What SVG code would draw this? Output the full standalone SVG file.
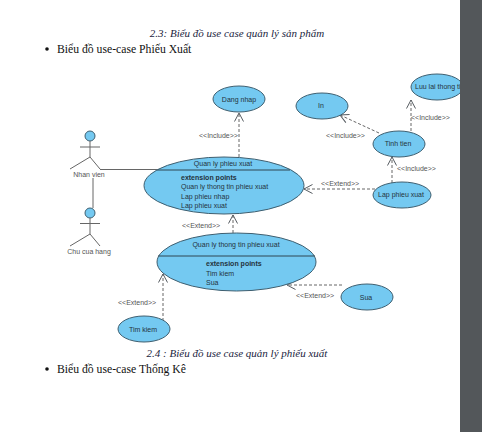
<svg xmlns="http://www.w3.org/2000/svg" width="482" height="432" viewBox="0 0 482 432">
<defs>
<marker id="open" viewBox="0 0 10 10" refX="9.5" refY="5" markerWidth="10" markerHeight="10" markerUnits="userSpaceOnUse" orient="auto"><path d="M1 0.5L9.5 5L1 9.5" fill="none" stroke="#555b60" stroke-width="1"/></marker>
</defs>
<style>
.uc{fill:#74c9f1;stroke:#3f5f70;stroke-width:1}
.t{font-family:"Liberation Sans",Arial,sans-serif;font-size:7px;fill:#24333d}
.l{font-family:"Liberation Sans",Arial,sans-serif;font-size:7px;fill:#555}
.b{font-weight:bold}
.m{text-anchor:middle}
.dash{fill:none;stroke:#666;stroke-width:1;stroke-dasharray:3 2;marker-end:url(#open)}
.actor{fill:none;stroke:#666;stroke-width:1}
.head{fill:#74c9f1;stroke:#3f5f70;stroke-width:1}
.doc{font-family:"Liberation Serif","Times New Roman",serif;font-size:11.7px;fill:#111}
.cap{font-style:italic;font-size:11px;fill:#1a2440}
</style>
<rect width="482" height="432" fill="#fff"/>
<g id="page-text">
<text class="doc cap m" x="237" y="37">2.3: Biểu đồ use case quản lý sản phẩm</text>
<circle cx="47" cy="49" r="1.8" fill="#111"/>
<text class="doc" x="57" y="53">Biểu đồ use-case Phiếu Xuất</text>
<text class="doc cap m" x="237" y="357">2.4 : Biểu đồ use case quản lý phiếu xuất</text>
<circle cx="47" cy="369" r="1.8" fill="#111"/>
<text class="doc" x="57" y="373">Biểu đồ use-case Thống Kê</text>
</g>
<g id="connectors">
<path class="actor" d="M100 169.500H157"/>
<path class="actor" d="M93 178V208"/>
<path class="dash" d="M239 157V113"/>
<path class="dash" d="M379 133L340 115"/>
<path class="dash" d="M411 131V100"/>
<path class="dash" d="M392 183V157"/>
<path class="dash" d="M375 189H304"/>
<path class="dash" d="M233 233V215"/>
<path class="dash" d="M163 321V274"/>
<path class="dash" d="M342 285H287"/>
</g>
<g id="labels">
<text class="l" x="199" y="138">&lt;&lt;Include&gt;&gt;</text>
<text class="l" x="326" y="138">&lt;&lt;Include&gt;&gt;</text>
<text class="l" x="411" y="120">&lt;&lt;Include&gt;&gt;</text>
<text class="l" x="397" y="171">&lt;&lt;Include&gt;&gt;</text>
<text class="l" x="321" y="186">&lt;&lt;Extend&gt;&gt;</text>
<text class="l" x="182" y="228">&lt;&lt;Extend&gt;&gt;</text>
<text class="l" x="118" y="305">&lt;&lt;Extend&gt;&gt;</text>
<text class="l" x="296" y="298">&lt;&lt;Extend&gt;&gt;</text>
</g>
<g id="actor-nhan-vien">
<circle class="head" cx="90" cy="136" r="5"/>
<path class="actor" d="M80 147H100M90 141V157M70 169L90 157L100 169"/>
<text class="l m" x="89" y="177">Nhan vien</text>
</g>
<g id="actor-chu-cua-hang">
<circle class="head" cx="90" cy="213" r="5"/>
<path class="actor" d="M80 223.500H100M90 218V234M70 246L90 234L100 246"/>
<text class="l m" x="89" y="254">Chu cua hang</text>
</g>
<g id="uc-dang-nhap">
<ellipse class="uc" cx="239" cy="99" rx="26" ry="13"/>
<text class="t m" x="239" y="102">Dang nhap</text>
</g>
<g id="uc-in">
<ellipse class="uc" cx="322" cy="106" rx="26" ry="13"/>
<text class="t m" x="321" y="108">In</text>
</g>
<g id="uc-luu-lai">
<ellipse class="uc" cx="437" cy="87" rx="26" ry="13"/>
<text class="t" x="415" y="89">Luu lai thong tin</text>
</g>
<g id="uc-tinh-tien">
<ellipse class="uc" cx="399" cy="144" rx="26" ry="13"/>
<text class="t m" x="398" y="146">Tinh tien</text>
</g>
<g id="uc-lap-phieu-xuat">
<ellipse class="uc" cx="402" cy="195" rx="29" ry="13"/>
<text class="t m" x="401" y="197">Lap phieu xuat</text>
</g>
<g id="uc-quan-ly-phieu-xuat">
<ellipse class="uc" cx="224" cy="185.500" rx="80" ry="28.500"/>
<path d="M157 170H290" fill="none" stroke="#2f4653" stroke-width="1"/>
<text class="t m" x="223" y="166">Quan ly phieu xuat</text>
<text class="t b" x="181" y="180">extension points</text>
<text class="t" x="181" y="189">Quan ly thong tin phieu xuat</text>
<text class="t" x="181" y="199">Lap phieu nhap</text>
<text class="t" x="181" y="208">Lap phieu xuat</text>
</g>
<g id="uc-quan-ly-thong-tin">
<ellipse class="uc" cx="236.500" cy="262" rx="79.500" ry="29"/>
<path d="M158 256H315" fill="none" stroke="#2f4653" stroke-width="1"/>
<text class="t m" x="236" y="247">Quan ly thong tin phieu xuat</text>
<text class="t b" x="206" y="266">extension points</text>
<text class="t" x="206" y="276">Tim kiem</text>
<text class="t" x="206" y="285">Sua</text>
</g>
<g id="uc-tim-kiem">
<ellipse class="uc" cx="144" cy="329" rx="26" ry="13"/>
<text class="t m" x="143" y="332">Tim kiem</text>
</g>
<g id="uc-sua">
<ellipse class="uc" cx="367" cy="297" rx="26" ry="13"/>
<text class="t m" x="366" y="300">Sua</text>
</g>
<rect id="viewer-edge" x="460" y="0" width="22" height="432" fill="#53575a"/>
</svg>
